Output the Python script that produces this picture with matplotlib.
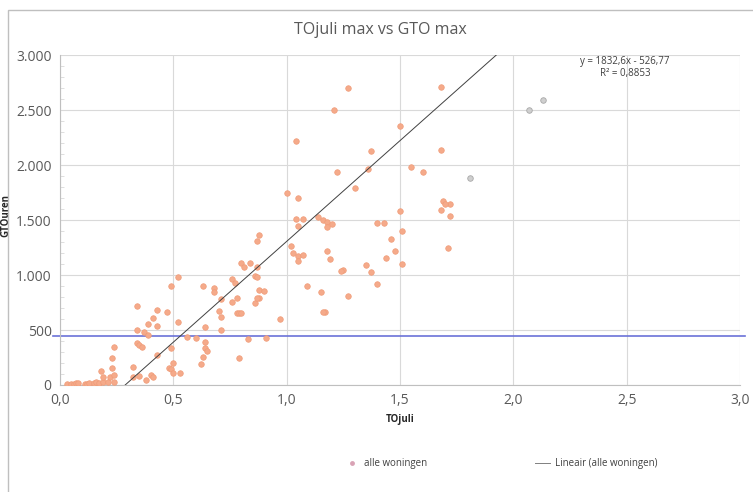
import matplotlib.pyplot as plt
from matplotlib.patches import Rectangle
from matplotlib.lines import Line2D

plt.rcParams['font.family'] = ['Open Sans', 'DejaVu Sans']

# TOjuli max (x) and GTO max (y), all houses
toj = [0.03, 0.05, 0.06, 0.07, 0.08, 0.11, 0.12, 0.13, 0.15, 0.16, 0.17, 0.19, 0.21, 0.24,
       0.18, 0.19, 0.22, 0.23, 0.24, 0.23, 0.24, 0.32, 0.32, 0.34, 0.34, 0.34, 0.35, 0.36,
       0.37, 0.35, 0.38, 0.39, 0.39, 0.41, 0.43, 0.43, 0.43, 0.40, 0.41, 0.47, 0.49, 0.52,
       0.52, 0.49, 0.50, 0.48, 0.49, 0.50, 0.53, 0.56, 0.60, 0.63, 0.64, 0.64, 0.64, 0.65,
       0.63, 0.62, 0.68, 0.68, 0.70, 0.71, 0.71, 0.71, 0.76, 0.76, 0.77, 0.78, 0.78, 0.79,
       0.80, 0.79, 0.80, 0.81, 0.83, 0.84, 0.86, 0.86, 0.87, 0.87, 0.88, 0.88, 0.87, 0.90,
       0.91, 0.87, 0.88, 0.97, 1.02, 1.03, 1.05, 1.07, 1.05, 1.09, 1.15, 1.17, 1.16, 1.18,
       1.19, 1.25, 1.27, 1.35, 1.37, 1.40, 1.05, 1.04, 1.37, 1.68, 1.22, 1.36, 1.55, 1.60,
       1.30, 1.00, 1.05, 1.50, 1.69, 1.72, 1.70, 1.68, 1.72, 1.04, 1.07, 1.14, 1.16, 1.18,
       1.20, 1.18, 1.40, 1.43, 1.51, 1.46, 1.48, 1.51, 1.44, 1.71, 1.27, 1.68, 1.21, 1.50,
       1.24]
gto = [5, 8, 12, 15, 18, 5, 10, 15, 20, 25, 20, 30, 27, 25,
       130, 75, 75, 245, 345, 150, 90, 165, 75, 720, 500, 385, 365, 345,
       485, 80, 45, 455, 555, 610, 535, 680, 275, 90, 75, 665, 900, 980,
       575, 335, 200, 155, 145, 110, 110, 435, 425, 900, 525, 390, 335, 310,
       255, 190, 880, 845, 675, 620, 500, 780, 755, 965, 925, 790, 655, 655,
       655, 245, 1110, 1075, 420, 1110, 745, 990, 980, 1075, 865, 790, 790, 855,
       425, 1310, 1365, 600, 1265, 1200, 1175, 1180, 1445, 900, 845, 665, 665, 1220,
       1145, 1045, 810, 1090, 1025, 920, 1125, 2220, 2125, 2135, 1935, 1965, 1980, 1935,
       1790, 1745, 1700, 1580, 1670, 1645, 1645, 1590, 1535, 1510, 1510, 1525, 1500, 1480,
       1465, 1435, 1475, 1475, 1400, 1325, 1220, 1100, 1155, 1245, 2700, 2710, 2500, 2355,
       1035]

# highlighted points (grey)
toj_grey = [1.81, 2.07, 2.13]
gto_grey = [1880, 2500, 2590]

slope = 1832.6
intercept = -526.77
r2_text = 'y = 1832,6x - 526,77\nR² = 0,8853'
ref_level = 450

x_ticks = [0.0, 0.5, 1.0, 1.5, 2.0, 2.5, 3.0]
x_tick_labels = ['0,0', '0,5', '1,0', '1,5', '2,0', '2,5', '3,0']
y_ticks = [0, 500, 1000, 1500, 2000, 2500, 3000]
y_tick_labels = ['0', '500', '1.000', '1.500', '2.000', '2.500', '3.000']

fig = plt.figure(figsize=(7.53, 4.92), dpi=100)
ax = fig.add_axes([0.0797, 0.2175, 0.903, 0.6705])

ax.scatter(toj, gto, s=16, color='#F5AA8A', edgecolor='#F09C78', linewidth=0.5,
           zorder=3, label='alle woningen')
ax.scatter(toj_grey, gto_grey, s=16, color='#cfcfcf', edgecolor='#a8a8a8', linewidth=0.6,
           zorder=3)

xs = [min(toj), max(toj_grey)]
ax.plot(xs, [slope * v + intercept for v in xs], color='#404040', lw=0.7, zorder=4,
        label='Lineair (alle woningen)')

ax.plot([-0.0103, 1.007], [ref_level, ref_level], color='#6B72D8', lw=1.2,
        transform=ax.get_yaxis_transform(), clip_on=False, zorder=2)

ax.set_xlim(0, 3)
ax.set_ylim(0, 3000)
ax.set_xticks(x_ticks)
ax.set_xticklabels(x_tick_labels)
ax.set_yticks(y_ticks)
ax.set_yticklabels(y_tick_labels)
ax.set_yticks(range(0, 3001, 100), minor=True)
ax.tick_params(axis='both', which='major', length=0, labelsize=10, labelcolor='#595959', pad=6)
ax.tick_params(axis='y', which='minor', direction='in', length=3, color='#d9d9d9')
ax.grid(True, color='#d9d9d9', lw=0.8)
ax.set_axisbelow(True)
for s in ['top', 'right']:
    ax.spines[s].set_visible(False)
for s in ['left', 'bottom']:
    ax.spines[s].set_color('#bfbfbf')

ax.set_xlabel('TOjuli', fontsize=7, fontweight='bold', color='#262626', labelpad=4)
ax.set_ylabel('GTOuren', fontsize=7, fontweight='bold', color='#262626')
ax.yaxis.set_label_coords(-0.071, 0.515)

ax.text(0.831, 0.962, r2_text, transform=ax.transAxes, ha='center', va='center',
        fontsize=7, color='#404040', linespacing=1.1)

fig.text(0.505, 0.939, 'TOjuli max vs GTO max', ha='center', va='center',
         fontsize=11.5, color='#595959')

fig.legend(handles=[
    Line2D([], [], marker='o', ls='', markersize=3.5, color='#D9A3B5', markeredgewidth=0),
    Line2D([], [], color='#808080', lw=0.7)],
    labels=['alle woningen', 'Lineair (alle woningen)'],
    loc='center', bbox_to_anchor=(0.665, 0.058), ncol=2, frameon=False,
    fontsize=7, columnspacing=11, handlelength=1.6, handletextpad=0.5,
    labelcolor='#404040')

fig.patches.append(Rectangle((8 / 753, -0.1), 1.2, 1 - 10 / 492 + 0.1,
                             transform=fig.transFigure, fill=False,
                             edgecolor='#bfbfbf', lw=1))

fig.savefig('out.png', dpi=100)
